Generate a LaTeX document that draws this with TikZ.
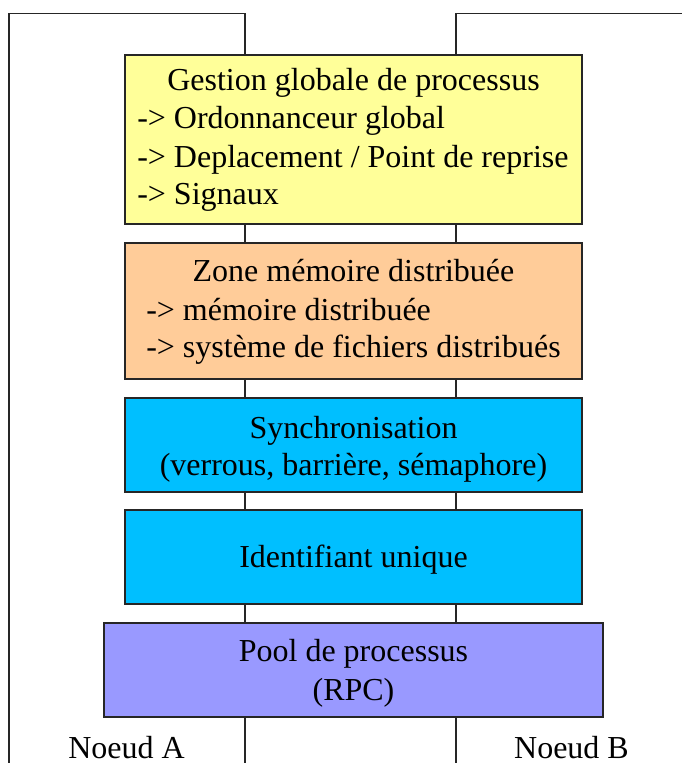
\documentclass[tikz,border=0pt]{standalone}
\usepackage{fontspec}
\setmainfont{Liberation Serif}

\definecolor{gestion}{HTML}{FFFF99}
\definecolor{zone}{HTML}{FFCC99}
\definecolor{sync}{HTML}{00BFFF}
\definecolor{pool}{HTML}{9999FF}

\tikzset{
  box/.style={draw=black!85, line width=0.9pt, inner sep=0pt},
  txt/.style={inner sep=0pt, anchor=base, font=\fontsize{24}{28}\selectfont},
  ltxt/.style={txt, anchor=base west},
  frame/.style={line width=0.8pt, black!85},
}

\begin{document}
\begin{tikzpicture}[x=0.75pt, y=-0.75pt]

  \useasboundingbox (0,0) rectangle (681,763);

  % frames of the two nodes
  \coordinate (a1) at (9,770);
  \coordinate (a2) at (9,13.5);
  \coordinate (a3) at (245,13.5);
  \coordinate (a4) at (245,770);
  \coordinate (b1) at (456,770);
  \coordinate (b2) at (456,13.5);
  \coordinate (b3) at (690,13.5);
  \draw[frame] (a1) -- (a2) -- (a3) -- (a4);
  \draw[frame] (b1) -- (b2) -- (b3);

  % boxes
  \node[box, fill=gestion, minimum width=342.75pt, minimum height=126.75pt] (gest) at (353.5,139.5) {};
  \node[box, fill=zone, minimum width=342.75pt, minimum height=102pt] (zone) at (353.5,311) {};
  \node[box, fill=sync, minimum width=342.75pt, minimum height=70.5pt] (sync) at (353.5,445) {};
  \node[box, fill=sync, minimum width=342.75pt, minimum height=70.5pt] (ident) at (353.5,557) {};
  \node[box, fill=pool, minimum width=374.25pt, minimum height=70.5pt] (pool) at (353.5,670) {};

  % texts
  \node[txt] (g0) at (353.5,91) {Gestion globale de processus};
  \node[ltxt] (g1) at (137,129) {-> Ordonnanceur global};
  \node[ltxt] (g2) at (137,167) {-> Deplacement / Point de reprise};
  \node[ltxt] (g3) at (137,204) {-> Signaux};

  \node[txt] (z0) at (353.5,281) {Zone mémoire distribuée};
  \node[ltxt] (z1) at (146,320) {-> mémoire distribuée};
  \node[ltxt] (z2) at (146,357) {-> système de fichiers distribués};

  \node[txt] (s0) at (353.5,438) {Synchronisation};
  \node[txt] (s1) at (353.5,475) {(verrous, barrière, sémaphore)};

  \node[txt] (i0) at (353.5,567) {Identifiant unique};

  \node[txt] (p0) at (353.5,661) {Pool de processus};
  \node[txt] (p1) at (353.5,700) {(RPC)};

  % names of nodes
  \node[txt] (na) at (126.5,758) {Noeud A};
  \node[txt] (nb) at (571.5,758) {Noeud B};

\end{tikzpicture}
\end{document}
